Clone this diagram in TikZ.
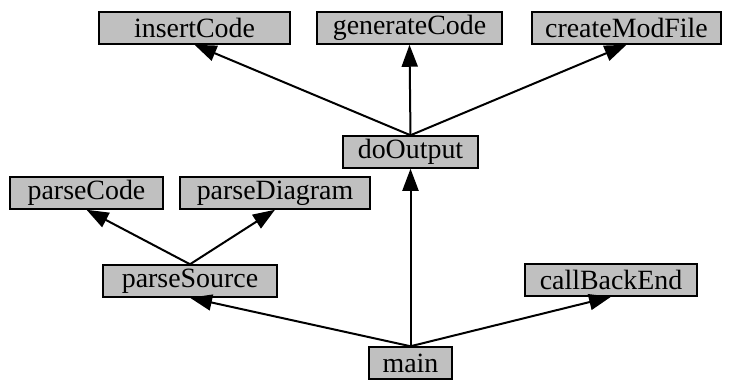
\documentclass[tikz,border=0pt]{standalone}
\usepackage{fontspec}
\setmainfont{Liberation Serif}
\usetikzlibrary{arrows.meta}
\definecolor{boxgray}{RGB}{192,192,192}
\begin{document}
\begin{tikzpicture}[x=1bp,y=-1bp,
  fn/.style={draw=black, line width=1.5bp, fill=boxgray, minimum height=32bp,
    inner sep=0pt, font=\fontsize{28}{28}\selectfont},
  call/.style={line width=2bp, -{Triangle[length=22bp,width=16bp]}}]
\useasboundingbox (0,0) rectangle (740,379);
% functions
\node[fn, minimum width=191bp] (insertCode)   at (194.5,28) {insertCode};
\node[fn, minimum width=185bp] (generateCode) at (409.5,28) {generateCode};
\node[fn, minimum width=189bp] (createModFile) at (626.5,28) {createModFile};
\node[fn, minimum width=135bp] (doOutput)     at (410.5,152) {doOutput};
\node[fn, minimum width=153bp] (parseCode)    at (86.5,193) {parseCode};
\node[fn, minimum width=190bp] (parseDiagram) at (275,193) {parseDiagram};
\node[fn, minimum width=174bp] (parseSource)  at (190,281) {parseSource};
\node[fn, minimum width=172bp] (callBackEnd)  at (611,280) {callBackEnd};
\node[fn, minimum width=83bp]  (main)         at (410.5,363) {main};
% calls
\draw[call] (doOutput.north) -- (insertCode.south);
\draw[call] (doOutput.north) -- (generateCode.south);
\draw[call] (doOutput.north) -- (createModFile.south);
\draw[call] (parseSource.north) -- (parseCode.south);
\draw[call] (parseSource.north) -- (parseDiagram.south);
\draw[call] (main.north) -- (parseSource.south);
\draw[call] (main.north) -- (doOutput.south);
\draw[call] (main.north) -- (callBackEnd.south);
\end{tikzpicture}
\end{document}
